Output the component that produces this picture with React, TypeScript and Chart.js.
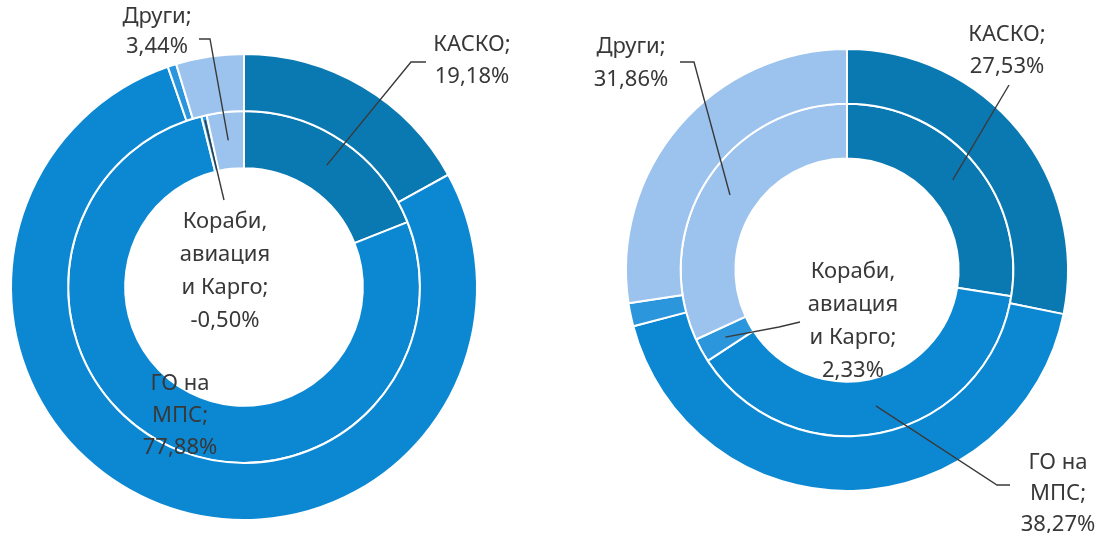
import React, { useEffect, useRef } from 'react';
import { Chart, registerables } from 'chart.js';

Chart.register(...registerables);

// ---- data ----
const categories = ['КАСКО', 'ГО на МПС', 'Кораби, авиация и Карго', 'Други'];
const categoryLines = [['КАСКО;'], ['ГО на', 'МПС;'], ['Кораби,', 'авиация', 'и Карго;'], ['Други;']];
const colors = ['#0A79B2', '#0C88D3', '#2C96DC', '#9CC3EE'];

// left chart: outer ring (previous period), inner ring (labelled)
const leftOuter = [17.0, 77.7, 0.6, 4.7];
const leftInner = [19.18, 77.88, -0.5, 3.44];
// right chart
const rightOuter = [28.2, 42.7, 1.7, 27.4];
const rightInner = [27.53, 38.27, 2.33, 31.86];

const fmt = (v: number) => v.toFixed(2).replace('.', ',') + '%';

type LabelCfg = {
  index: number;
  dx: number; // text centre relative to chart centre
  dy: number;
  gap: number;
  f?: number; // radial fraction in inner ring for the leader end
  lead?: number[][]; // leader polyline points relative to chart centre
};

const leftLabels: LabelCfg[] = [
  { index: 0, dx: 228, dy: -242, gap: 32, f: 0.5, lead: [[182, -225], [167, -225]] },
  { index: 3, dx: -87, dy: -270, gap: 30, f: 0.5, lead: [[-45, -248], [-34, -248]] },
  { index: 2, dx: -19, dy: -65, gap: 33, f: 0.92, lead: [[-20, -87]] },
  { index: 1, dx: -64, dy: 97, gap: 32 },
];

const rightLabels: LabelCfg[] = [
  { index: 0, dx: 160, dy: -235, gap: 32, f: 0.5, lead: [[162, -185]] },
  { index: 3, dx: -216, dy: -223, gap: 33, f: 0.5, lead: [[-167, -208], [-153, -208]] },
  { index: 2, dx: 6, dy: 2, gap: 33, f: 0.5, lead: [[-47, 52], [-68, 57]] },
  { index: 1, dx: 211, dy: 193, gap: 31, f: 0.5, lead: [[163, 215], [150, 215]] },
];

function makeLabelPlugin(labels: LabelCfg[]) {
  return {
    id: 'pieLabels',
    afterDatasetsDraw(chart: any) {
      const ctx = chart.ctx as CanvasRenderingContext2D;
      const meta = chart.getDatasetMeta(1);
      const values = chart.data.datasets[1].data as number[];
      ctx.save();
      labels.forEach((l) => {
        const arc = meta.data[l.index];
        const p = arc.getProps(['x', 'y', 'startAngle', 'endAngle', 'innerRadius', 'outerRadius'], true);
        const cx = p.x;
        const cy = p.y;
        if (l.lead) {
          const mid = (p.startAngle + p.endAngle) / 2;
          const r = p.innerRadius + (p.outerRadius - p.innerRadius) * (l.f ?? 0.5);
          const ex = cx + Math.cos(mid) * r;
          const ey = cy + Math.sin(mid) * r;
          ctx.beginPath();
          ctx.strokeStyle = '#3a3a3a';
          ctx.lineWidth = 1.4;
          l.lead.forEach((pt, i) => {
            if (i === 0) ctx.moveTo(cx + pt[0], cy + pt[1]);
            else ctx.lineTo(cx + pt[0], cy + pt[1]);
          });
          ctx.lineTo(ex, ey);
          ctx.stroke();
        }
        const lines = [...categoryLines[l.index], fmt(values[l.index])];
        ctx.font = '22px "Noto Sans"';
        ctx.fillStyle = '#383838';
        ctx.textAlign = 'center';
        ctx.textBaseline = 'middle';
        lines.forEach((t, i) => {
          ctx.fillText(t, cx + l.dx, cy + l.dy + i * l.gap);
        });
      });
      ctx.restore();
    },
  };
}

function Donut(props: {
  outer: number[];
  inner: number[];
  labels: LabelCfg[];
  width: number;
  height: number;
  padding: { left: number; top: number; right: number; bottom: number };
  cutout: string;
  left: number;
}) {
  const ref = useRef<HTMLCanvasElement | null>(null);
  useEffect(() => {
    if (!ref.current) return;
    const chart = new Chart(ref.current, {
      type: 'doughnut',
      data: {
        labels: categories,
        datasets: [
          { data: props.outer, backgroundColor: colors, borderColor: '#ffffff', borderWidth: 2 },
          { data: props.inner, backgroundColor: colors, borderColor: '#ffffff', borderWidth: 2 },
        ],
      },
      options: {
        responsive: false,
        animation: false,
        events: [],
        cutout: props.cutout,
        layout: { padding: props.padding },
        plugins: { legend: { display: false }, tooltip: { enabled: false } },
      },
      plugins: [makeLabelPlugin(props.labels)],
    });
    return () => chart.destroy();
  }, []);
  return (
    <canvas
      ref={ref}
      width={props.width}
      height={props.height}
      style={{ position: 'absolute', left: props.left, top: 0, width: props.width, height: props.height }}
    />
  );
}

export default function App() {
  return (
    <div style={{ position: 'absolute', left: 0, top: 0, width: 1103, height: 533, background: '#ffffff', overflow: 'hidden' }}>
      <Donut
        outer={leftOuter}
        inner={leftInner}
        labels={leftLabels}
        width={560}
        height={533}
        left={0}
        padding={{ left: 10, top: 53, right: 82, bottom: 12 }}
        cutout="51%"
      />
      <Donut
        outer={rightOuter}
        inner={rightInner}
        labels={rightLabels}
        width={543}
        height={533}
        left={560}
        padding={{ left: 65, top: 48, right: 34, bottom: 41 }}
        cutout="50.5%"
      />
    </div>
  );
}
